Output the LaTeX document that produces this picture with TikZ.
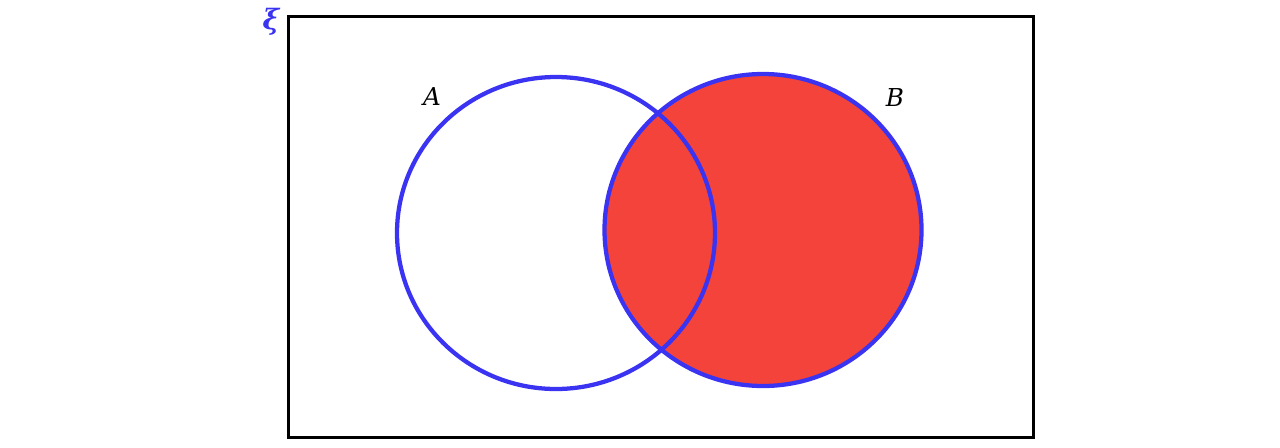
\documentclass[tikz,border=0pt]{standalone}
\usepackage{fontspec}
\newfontfamily\lblfont{DejaVu Serif}
\definecolor{vblue}{HTML}{3A34F2}
\definecolor{vred}{HTML}{F4433A}
\begin{document}
\begin{tikzpicture}[x=0.75pt,y=-0.75pt,
  setcircle/.style={draw=vblue,line width=3.2pt},
  lbl/.style={font=\lblfont\itshape\fontsize{18.5}{21}\selectfont,inner sep=0pt}]
\useasboundingbox (0,0) rectangle (1280,447);
\node[draw=black,line width=2.25pt,minimum width=745*0.75pt,minimum height=421*0.75pt,inner sep=0pt] (U) at (660.5,226.5) {};
\fill[vred] (763,230) ellipse [x radius=158.5,y radius=156];
\draw[setcircle] (763,230) ellipse [x radius=158.5,y radius=156];
\draw[setcircle] (556,233) ellipse [x radius=159,y radius=156];
\node[lbl] (la) at (432,97) {A};
\node[lbl] (lb) at (895,98) {B};
\node[lbl,text=vblue,font=\lblfont\bfseries\itshape\fontsize{21}{23}\selectfont] (xi) at (271,22) {ξ};
\end{tikzpicture}
\end{document}
